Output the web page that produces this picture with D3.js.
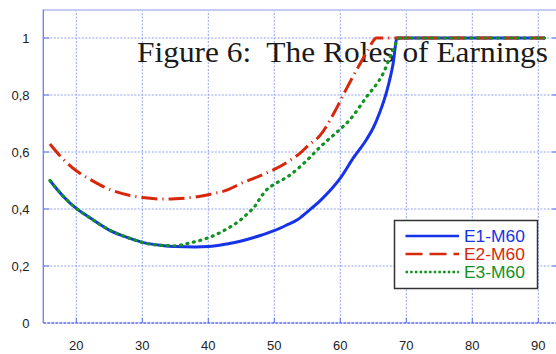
<!DOCTYPE html>
<html><head><meta charset="utf-8">
<script src="https://cdn.jsdelivr.net/npm/d3@7"></script>
<style>html,body{margin:0;padding:0;background:#fff;}svg{display:block;}</style>
</head><body>
<svg id="c" width="556" height="354"></svg>
<script>
// ---- data ----
const xTicks = [20, 30, 40, 50, 60, 70, 80, 90];
const yTicks = [0, 0.2, 0.4, 0.6, 0.8, 1];
const yTickLabels = ["0", "0,2", "0,4", "0,6", "0,8", "1"];
const seriesNames = ["E1-M60", "E2-M60", "E3-M60"];
const titleText = "Figure 6:  The Roles of Earnings";

const e1Age = [16,18,20,22,25,28,30,33,35,38,40,43,45,48,50,52,53.5,55,57,60,62,64,65,66,67,68,68.6,91];
const e1Val = [0.50,0.445,0.402,0.37,0.326,0.298,0.283,0.272,0.268,0.267,0.268,0.278,0.288,0.308,0.324,0.345,0.362,0.39,0.43,0.508,0.58,0.645,0.685,0.74,0.81,0.91,1.0,1.0];

const e2Age = [16,18,20,22,25,28,30,33,35,38,40,43,45,48,50,52,54,55,57,59,61,63,64,65,65.4,91];
const e2Val = [0.628,0.575,0.534,0.505,0.469,0.448,0.44,0.435,0.436,0.442,0.45,0.468,0.49,0.518,0.539,0.565,0.598,0.62,0.66,0.735,0.825,0.91,0.95,0.99,1.0,1.0];

const e3Age = [16,18,20,22,25,28,30,33,35,37,40,42.5,45,46,47,48,49,50,52,55,57,59,61.4,64,66.5,68,69,91];
const e3Val = [0.50,0.445,0.402,0.37,0.326,0.298,0.283,0.272,0.271,0.28,0.299,0.326,0.364,0.385,0.408,0.443,0.471,0.487,0.513,0.572,0.619,0.66,0.712,0.794,0.876,0.958,1.0,1.0];

// ---- drawing ----
const svg = d3.select("#c");
const L = 43.3, R = 558.1, T = 9.5, B = 323;
const x = d3.scaleLinear().domain([15, 93]).range([L, R]);
const y = d3.scaleLinear().domain([0, 1.1]).range([B, T]);

const gridCol = "#93a3f2";
// vertical grid
svg.append("g").selectAll("line").data(xTicks).join("line")
  .attr("x1", d => x(d)).attr("x2", d => x(d)).attr("y1", T).attr("y2", B)
  .attr("stroke", gridCol).attr("stroke-width", 1).attr("stroke-dasharray", "2,1.5");
// horizontal grid
svg.append("g").selectAll("line").data(yTicks.filter(d => d > 0)).join("line")
  .attr("x1", L).attr("x2", R).attr("y1", d => y(d)).attr("y2", d => y(d))
  .attr("stroke", gridCol).attr("stroke-width", 1).attr("stroke-dasharray", "2,1.5");

// ticks inward
svg.append("g").selectAll("line").data(yTicks.filter(d => d > 0)).join("line")
  .attr("x1", L).attr("x2", L + 6).attr("y1", d => y(d)).attr("y2", d => y(d))
  .attr("stroke", "#5a6ef0").attr("stroke-width", 1);
svg.append("g").selectAll("line").data(yTicks.filter(d => d > 0)).join("line")
  .attr("x1", R - 6).attr("x2", R).attr("y1", d => y(d)).attr("y2", d => y(d))
  .attr("stroke", "#5a6ef0").attr("stroke-width", 1);
svg.append("g").selectAll("line").data(xTicks).join("line")
  .attr("x1", d => x(d)).attr("x2", d => x(d)).attr("y1", B).attr("y2", B - 5)
  .attr("stroke", "#5a6ef0").attr("stroke-width", 1);

// frame
svg.append("line").attr("x1", L).attr("x2", R).attr("y1", T + 0.5).attr("y2", T + 0.5)
  .attr("stroke", "#c3cbf6").attr("stroke-width", 2);
svg.append("line").attr("x1", L).attr("x2", L).attr("y1", T).attr("y2", B)
  .attr("stroke", "#6a7cf0").attr("stroke-width", 1.3);
svg.append("line").attr("x1", L).attr("x2", R).attr("y1", B).attr("y2", B)
  .attr("stroke", "#5a6ef0").attr("stroke-width", 1.6).attr("stroke-dasharray", "3,1");

// tick labels
svg.append("g").selectAll("text").data(yTicks).join("text")
  .attr("x", 29.5).attr("y", d => y(d)).attr("dy", "0.35em")
  .attr("text-anchor", "end").attr("font-family", "Liberation Sans, Arial, sans-serif")
  .attr("font-size", 13).attr("fill", "#222")
  .text((d, i) => yTickLabels[i]);
svg.append("g").selectAll("text").data(xTicks).join("text")
  .attr("x", d => x(d)).attr("y", 350)
  .attr("text-anchor", "middle").attr("font-family", "Liberation Sans, Arial, sans-serif")
  .attr("font-size", 13).attr("fill", "#222")
  .text(d => d);

// title
svg.append("text").attr("x", 137).attr("y", 61.5)
  .attr("font-family", "Liberation Serif, Times New Roman, serif")
  .attr("font-size", 29).attr("fill", "#1a1a1a")
  .attr("textLength", 411).attr("lengthAdjust", "spacingAndGlyphs")
  .style("white-space", "pre")
  .text(titleText);

// curves
const line = d3.line().x(d => x(d[0])).y(d => y(d[1])).curve(d3.curveMonotoneX);
const styles = [
  {col: "#1733e8", dash: null, w: 3, cap: "butt"},
  {col: "#d8280c", dash: "16,5,1.2,5", w: 3, cap: "butt"},
  {col: "#12921f", dash: "1,5.6", w: 3.2, cap: "round"}
];
const data = [
  d3.zip(e1Age, e1Val),
  d3.zip(e2Age, e2Val),
  d3.zip(e3Age, e3Val)
];
data.forEach((d, i) => {
  svg.append("path").datum(d).attr("d", line)
    .attr("fill", "none").attr("stroke", styles[i].col)
    .attr("stroke-width", styles[i].w)
    .attr("stroke-dasharray", styles[i].dash)
    .attr("stroke-linecap", styles[i].cap);
});

// legend
const lg = svg.append("g");
lg.append("rect").attr("x", 394.5).attr("y", 220.5).attr("width", 143).attr("height", 68)
  .attr("fill", "#fff").attr("stroke", "#333").attr("stroke-width", 1.5);
const legStyles = [
  {dash: null, w: 2.6},
  {dash: "17,7", w: 2.6},
  {dash: "2.5,2.2", w: 2.4}
];
seriesNames.forEach((n, i) => {
  const yy = 236 + i * 18;
  lg.append("line").attr("x1", 405.5).attr("x2", 459).attr("y1", yy).attr("y2", yy)
    .attr("stroke", styles[i].col).attr("stroke-width", legStyles[i].w)
    .attr("stroke-dasharray", legStyles[i].dash);
  lg.append("text").attr("x", 464).attr("y", yy).attr("dy", "0.36em")
    .attr("font-family", "Liberation Sans, Arial, sans-serif").attr("font-size", 16)
    .attr("textLength", 61).attr("lengthAdjust", "spacingAndGlyphs")
    .attr("fill", styles[i].col).text(n);
});
</script>
</body></html>
